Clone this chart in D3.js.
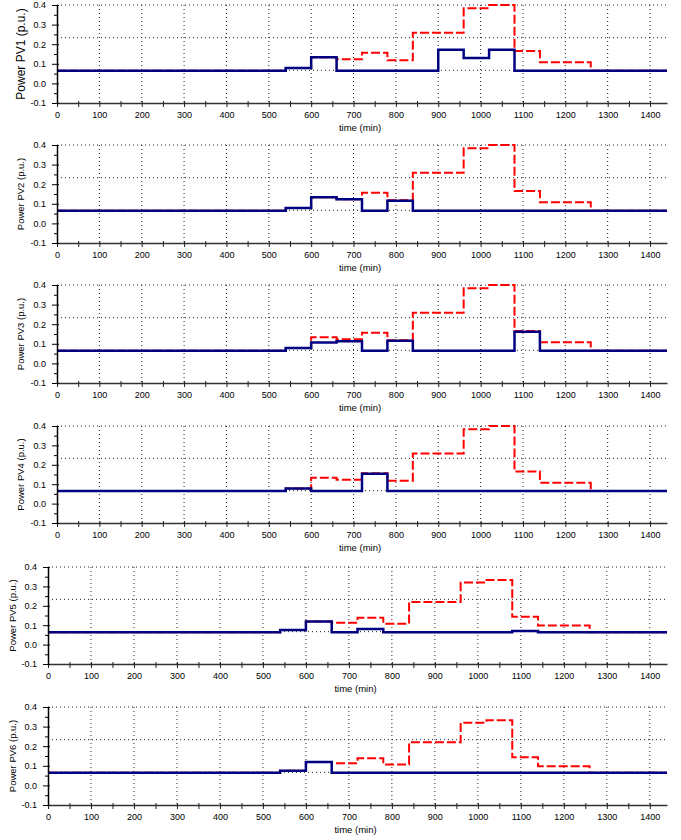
<!DOCTYPE html>
<html>
<head>
<meta charset="utf-8">
<script src="https://cdn.jsdelivr.net/npm/d3@7"></script>
<style>
  body { margin: 0; background: #fff; }
  svg text { font-family: "Liberation Sans", Arial, sans-serif; fill: #000; }
</style>
</head>
<body>
<svg id="chart" width="681" height="840"></svg>
<script>
// step boundaries (min), each value holds until the next boundary
const breakpoints = [0, 540, 600, 660, 720, 780, 840, 900, 960, 1020, 1080, 1140, 1260, 1440];

// dashed red reference profile
const refHigh = [0.065, 0.078, 0.133, 0.123, 0.157, 0.118, 0.258, 0.258, 0.383, 0.400, 0.165, 0.108, 0.065];
const refLow  = [0.064, 0.075, 0.119, 0.113, 0.138, 0.107, 0.220, 0.220, 0.320, 0.333, 0.144, 0.098, 0.064];

// solid blue per PV unit
const pv1 = [0.065, 0.078, 0.133, 0.065, 0.065, 0.065, 0.065, 0.172, 0.130, 0.172, 0.065, 0.065, 0.065];
const pv2 = [0.065, 0.078, 0.133, 0.123, 0.065, 0.116, 0.065, 0.065, 0.065, 0.065, 0.065, 0.065, 0.065];
const pv3 = [0.065, 0.078, 0.107, 0.113, 0.065, 0.116, 0.065, 0.065, 0.065, 0.065, 0.162, 0.065, 0.065];
const pv4 = [0.065, 0.078, 0.065, 0.065, 0.154, 0.065, 0.065, 0.065, 0.065, 0.065, 0.065, 0.065, 0.065];
const pv5 = [0.064, 0.075, 0.119, 0.064, 0.080, 0.064, 0.064, 0.064, 0.064, 0.064, 0.070, 0.064, 0.064];
const pv6 = [0.064, 0.075, 0.119, 0.064, 0.064, 0.064, 0.064, 0.064, 0.064, 0.064, 0.064, 0.064, 0.064];

const yLabels = ["Power PV1 (p.u.)", "Power PV2 (p.u.)", "Power PV3 (p.u.)",
                 "Power PV4 (p.u.)", "Power PV5 (p.u.)", "Power PV6 (p.u.)"];

const xTicks = [0, 100, 200, 300, 400, 500, 600, 700, 800, 900, 1000, 1100, 1200, 1300, 1400];
const xMinorTicks = [50, 150, 250, 350, 450, 550, 650, 750, 850, 950, 1050, 1150, 1250, 1350];
const yTicks = [-0.1, 0, 0.1, 0.2, 0.3, 0.4];
const yMinorTicks = [-0.05, 0.05, 0.15, 0.25, 0.35];
const xGrid = [100, 200, 300, 400, 500, 600, 700, 800, 900, 1000, 1100, 1200, 1300, 1400];
const yGrid = [0.0667, 0.2333, 0.4];

const panels = [
  { label: yLabels[0], ref: refHigh, pv: pv1 },
  { label: yLabels[1], ref: refHigh, pv: pv2 },
  { label: yLabels[2], ref: refHigh, pv: pv3 },
  { label: yLabels[3], ref: refHigh, pv: pv4 },
  { label: yLabels[4], ref: refLow,  pv: pv5 },
  { label: yLabels[5], ref: refLow,  pv: pv6 },
];

// where each subplot sits on the page
const layout = [
  { x0: 57, top: 5,   axis: 103, labelSize: 12,  labelX: 25 },
  { x0: 57, top: 145, axis: 243, labelSize: 9.5, labelX: 23.5 },
  { x0: 57, top: 285, axis: 383, labelSize: 9.5, labelX: 23.5 },
  { x0: 57, top: 426, axis: 523, labelSize: 9.5, labelX: 23.5 },
  { x0: 48, top: 567, axis: 664, labelSize: 9.5, labelX: 15.5 },
  { x0: 48, top: 707, axis: 805, labelSize: 9.5, labelX: 15.5 },
];
const xRight = 667;

const toSteps = vals => breakpoints.map((t, i) => ({ t: t, v: vals[Math.min(i, vals.length - 1)] }));

const svg = d3.select('#chart');

panels.forEach((p, i) => {
  const L = layout[i];
  const x = d3.scaleLinear().domain([0, 1440]).range([L.x0, xRight]);
  const y = d3.scaleLinear().domain([-0.1, 0.4]).range([L.axis, L.top]);
  const g = svg.append('g');

  // dotted grid
  g.append('g').selectAll('line').data(xGrid).join('line')
    .attr('x1', d => x(d)).attr('x2', d => x(d))
    .attr('y1', y(0.4)).attr('y2', y(-0.1))
    .attr('stroke', '#222').attr('stroke-width', 1).attr('stroke-dasharray', '1,3');
  g.append('g').selectAll('line').data(yGrid).join('line')
    .attr('x1', x(0)).attr('x2', x(1440))
    .attr('y1', d => y(d)).attr('y2', d => y(d))
    .attr('stroke', '#222').attr('stroke-width', 1).attr('stroke-dasharray', '1,3');

  const line = d3.line().x(d => x(d.t)).y(d => y(d.v)).curve(d3.curveStepAfter);

  g.append('path').datum(toSteps(p.ref))
    .attr('d', line).attr('fill', 'none')
    .attr('stroke', '#ff0000').attr('stroke-width', 2)
    .attr('stroke-dasharray', '9,3');

  g.append('path').datum(toSteps(p.pv))
    .attr('d', line).attr('fill', 'none')
    .attr('stroke', '#000080').attr('stroke-width', 2.5);

  // x axis
  const xAx = g.append('g').attr('transform', `translate(0,${L.axis})`)
    .call(d3.axisBottom(x).tickValues(xTicks).tickSize(4).tickSizeOuter(0).tickPadding(5)
      .tickFormat(d => String(d)));
  xAx.append('g').call(d3.axisBottom(x).tickValues(xMinorTicks).tickSize(4).tickFormat(''))
    .select('.domain').remove();
  xAx.selectAll('.tick line').attr('y1', -2).attr('stroke', '#222');
  xAx.select('.domain').attr('stroke', '#333').attr('stroke-width', 1.5);
  xAx.selectAll('text').attr('font-size', 9).attr('font-family', '"Liberation Sans", Arial, sans-serif');

  // y axis
  const yAx = g.append('g').attr('transform', `translate(${L.x0},0)`)
    .call(d3.axisLeft(y).tickValues(yTicks).tickSize(5).tickSizeOuter(0).tickPadding(6)
      .tickFormat(d => d.toFixed(1)));
  yAx.selectAll('.tick line').attr('x1', 2).attr('stroke', '#000');
  yAx.append('g').call(d3.axisLeft(y).tickValues(yMinorTicks).tickSize(3).tickFormat(''))
    .select('.domain').remove();
  yAx.select('.domain').attr('stroke', '#000').attr('stroke-width', 1.5);
  yAx.selectAll('text').attr('font-size', 9).attr('font-family', '"Liberation Sans", Arial, sans-serif');

  // axis titles
  g.append('text')
    .attr('transform', `translate(${L.labelX},${(L.top + L.axis) / 2}) rotate(-90)`)
    .attr('text-anchor', 'middle')
    .attr('font-size', L.labelSize)
    .text(p.label);

  g.append('text')
    .attr('x', (x(0) + x(1440)) / 2 - 2)
    .attr('y', L.axis + 28)
    .attr('text-anchor', 'middle')
    .attr('font-size', 9.5)
    .text('time (min)');
});
</script>
</body>
</html>
